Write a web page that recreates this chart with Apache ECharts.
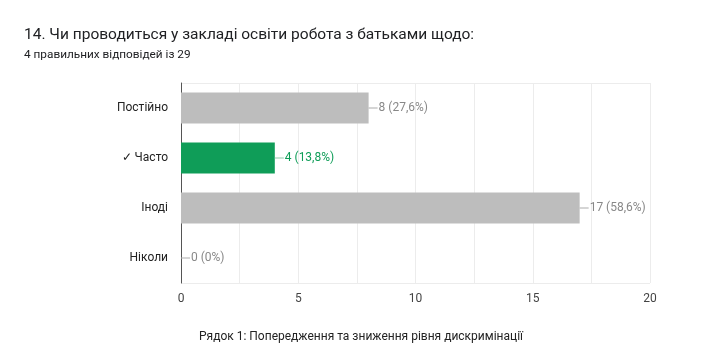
<!DOCTYPE html>
<html><head><meta charset="utf-8">
<script src="https://cdn.jsdelivr.net/npm/echarts@6/dist/echarts.min.js"></script>
<style>html,body{margin:0;padding:0;background:#fff}#c{width:722px;height:362px}</style>
</head><body><div id="c"></div>
<script>
const titleText = '14. Чи проводиться у закладі освіти робота з батьками щодо:';
const subtitleText = '4 правильних відповідей із 29';
const captionText = 'Рядок 1: Попередження та зниження рівня дискримінації';
const categories = ['Постійно', '✓ Часто', 'Іноді', 'Ніколи'];
const counts = [8, 4, 17, 0];
const percents = ['27,6%', '13,8%', '58,6%', '0%'];
const correct = [false, true, false, false];
const xTicks = [0, 5, 10, 15, 20];

const GREY = '#bdbdbd', GREEN = '#0f9d58';
const chart = echarts.init(document.getElementById('c'), null, {renderer: 'canvas'});
chart.setOption({
  animation: false,
  textStyle: {fontFamily: 'Roboto'},
  title: [
    {text: titleText, left: 19, top: 22, textStyle: {fontSize: 15.5, fontWeight: 'normal', color: '#202124', fontFamily: 'Roboto'}},
    {text: subtitleText, left: 19, top: 44, textStyle: {fontSize: 11.8, fontWeight: 'normal', color: '#202124', fontFamily: 'Roboto'}},
    {text: captionText, left: 'center', top: 326, textStyle: {fontSize: 12, fontWeight: 'normal', color: '#222', fontFamily: 'Roboto'}}
  ],
  grid: {left: 181, right: 72, top: 83, bottom: 79, containLabel: false, show: false},
  xAxis: {
    type: 'value', min: xTicks[0], max: xTicks[xTicks.length - 1], interval: 2.5,
    axisLine: {show: false}, axisTick: {show: false},
    splitLine: {show: true, lineStyle: {color: '#ececec', width: 1}},
    axisLabel: {color: '#444', fontSize: 12, margin: 10,
      formatter: v => xTicks.includes(v) ? String(v) : ''}
  },
  yAxis: {
    type: 'category', data: categories, inverse: true,
    axisLine: {show: true, lineStyle: {color: '#555', width: 1}},
    axisTick: {show: false},
    splitLine: {show: false},
    axisLabel: {color: '#222', fontSize: 12, margin: 13}
  },
  series: [{
    type: 'bar',
    barWidth: 31,
    data: counts.map((v, i) => ({
      value: v,
      itemStyle: {color: correct[i] ? GREEN : GREY},
      label: {
        show: true, position: 'right', distance: 0,
        formatter: '{l|}{t|' + v + ' (' + percents[i] + ')}',
        rich: {
          l: {width: 9, height: 1, backgroundColor: correct[i] ? '#8fc9a9' : '#aaa'},
          t: {color: correct[i] ? GREEN : '#888', fontSize: 12, fontFamily: 'Roboto', padding: [0, 0, 0, 1]}
        }
      }
    }))
  }],
  graphic: [
    {type: 'line', shape: {x1: 181, y1: 83.5, x2: 650, y2: 83.5}, style: {stroke: '#ececec', lineWidth: 1}, silent: true},
    {type: 'line', shape: {x1: 181, y1: 283.5, x2: 650, y2: 283.5}, style: {stroke: '#ececec', lineWidth: 1}, silent: true}
  ]
});
</script></body></html>
